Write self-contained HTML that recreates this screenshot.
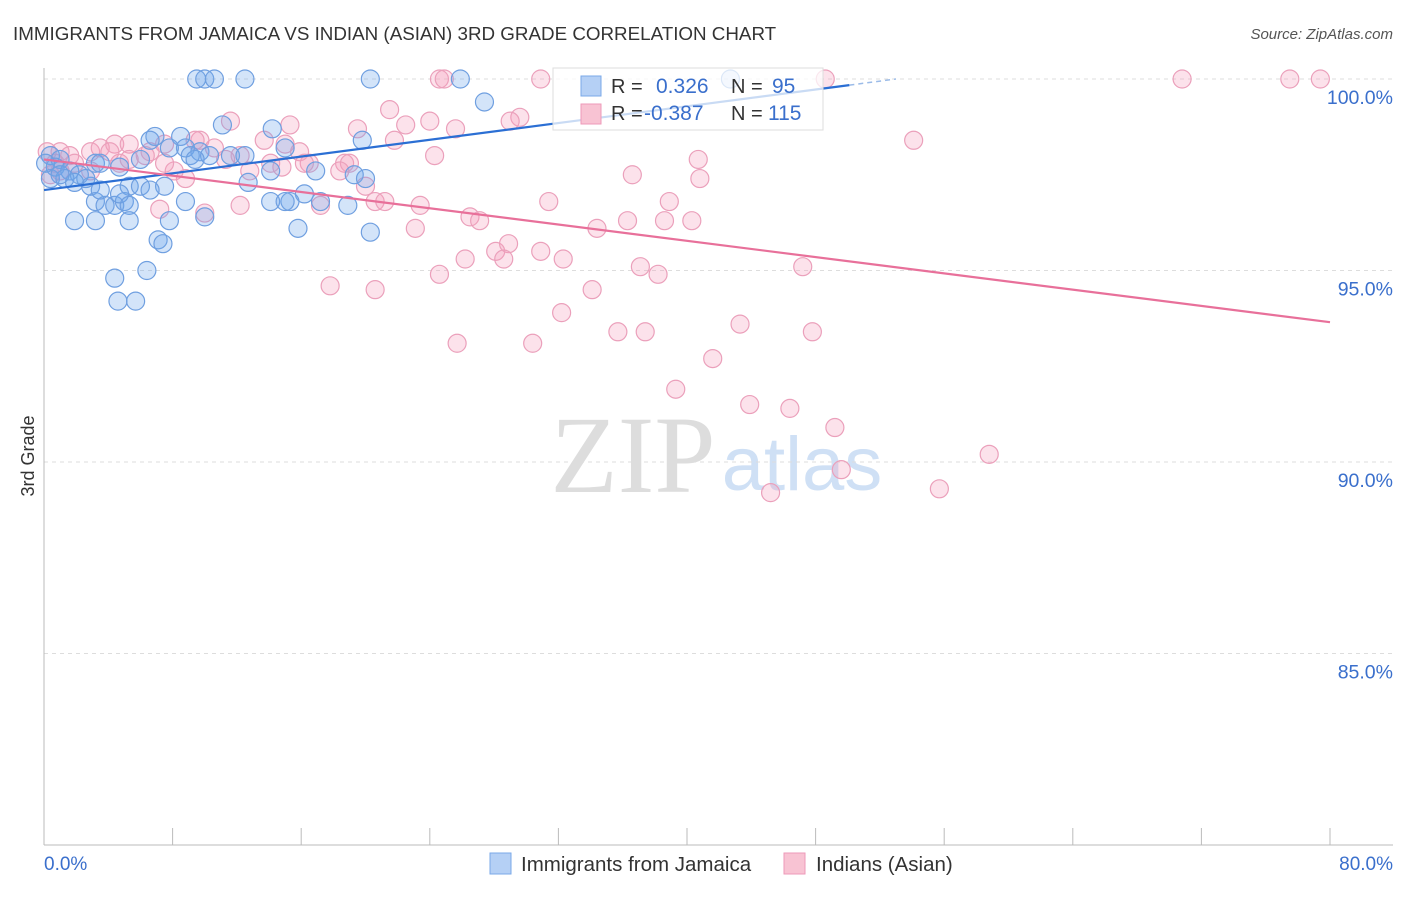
<!DOCTYPE html>
<html><head><meta charset="utf-8"><style>
body{margin:0;background:#fff;font-family:"Liberation Sans",sans-serif}
</style></head><body>
<svg id="c" width="1406" height="892" xmlns="http://www.w3.org/2000/svg" style="font-family:'Liberation Sans',sans-serif">
<text x="13" y="40" font-size="18.8" fill="#333">IMMIGRANTS FROM JAMAICA VS INDIAN (ASIAN) 3RD GRADE CORRELATION CHART</text>
<text x="1393" y="39" font-size="15" fill="#555" text-anchor="end" font-style="italic">Source: ZipAtlas.com</text>
<text x="34" y="456" font-size="18" fill="#333" text-anchor="middle" transform="rotate(-90 34 456)">3rd Grade</text>
<g>
<text x="633" y="492" font-size="110" fill="#ddd" text-anchor="middle" font-family="Liberation Serif,serif">ZIP</text>
<text x="802" y="490" font-size="76" fill="#cfe0f5" text-anchor="middle">atlas</text>
</g>
<g id="grid"></g><g id="axes"></g><g id="pts"></g><g id="lines"></g>
<g>
<rect x="553" y="68" width="270" height="62" fill="#fff" fill-opacity="0.75" stroke="#ddd"/>
<rect x="581" y="76" width="20" height="20" fill="#b5d0f5" stroke="#7aa8e8"/>
<rect x="581" y="104" width="20" height="20" fill="#f8c3d3" stroke="#ee9ab8"/>
<text x="611" y="93" font-size="20" fill="#333">R =</text><text x="656" y="93" font-size="21" fill="#3a6fcc">0.326</text>
<text x="731" y="93" font-size="20" fill="#333">N =</text><text x="772" y="93" font-size="21" fill="#3a6fcc">95</text>
<text x="611" y="120" font-size="20" fill="#333">R =</text><text x="644" y="120" font-size="21" fill="#3a6fcc">-0.387</text>
<text x="731" y="120" font-size="20" fill="#333">N =</text><text x="768" y="120" font-size="21" fill="#3a6fcc">115</text>
</g>
<g>
<rect x="490" y="853" width="21" height="21" fill="#b5d0f5" stroke="#7aa8e8"/>
<text x="521" y="871" font-size="20.5" fill="#333">Immigrants from Jamaica</text>
<rect x="784" y="853" width="21" height="21" fill="#f8c3d3" stroke="#ee9ab8"/>
<text x="816" y="871" font-size="20.5" fill="#333">Indians (Asian)</text>
</g>
</svg>
<script>
const yTicks=[100,95,90,85];
const yTickLabels=["100.0%","95.0%","90.0%","85.0%"];
const xTicks=[0,8,16,24,32,40,48,56,64,72,80];
const blueX=[9.5,10,10.6,12.5,20.3,25.9,42.7,27.4,14.2,11.1,6.9,8.5,19.8,6.6,8.8,9.7,7.8,10.3,11.6,12.5,15,0.4,1,3.2,3.5,6,9.1,0.7,1.6,2.2,2.9,4.7,5.3,6,7.5,9.4,12.7,14.1,16.9,19.3,20,16.2,15.3,14.1,15,17.2,18.9,8.8,3.2,3.8,4.4,5,4.7,5.3,6.6,1.9,3.2,5.3,7.8,10,15.8,20.3,7.1,7.4,6.4,4.4,4.6,5.7,0.4,1.3,2.6,1.9,1,0.1,3.5];
const blueY=[100,100,100,100,100,100,100,99.4,98.7,98.8,98.5,98.5,98.4,98.4,98.2,98.1,98.2,98,98,98,98.2,98,97.9,97.8,97.8,97.9,98,97.7,97.6,97.5,97.2,97.7,97.2,97.2,97.2,97.9,97.3,97.6,97.6,97.5,97.4,97,96.8,96.8,96.8,96.8,96.7,96.8,96.8,96.7,96.7,96.8,97,96.7,97.1,96.3,96.3,96.3,96.3,96.4,96.1,96,95.8,95.7,95,94.8,94.2,94.2,97.4,97.4,97.4,97.3,97.5,97.8,97.1];
const pinkX=[24.6,24.9,30.9,48.6,70.8,77.5,79.4,21.5,22.5,24,29.6,29,25.6,19.5,15.3,11.6,54.1,21.8,24.3,18.7,19,16.5,18.4,20,20.6,21.2,23.4,23.1,26.5,27.1,28.1,28.9,30.9,32.3,31.4,34.4,36.3,36.6,38.6,38.9,40.3,40.7,40.8,37.1,38.2,47.2,24.6,26.2,28.6,17.8,20.6,34.1,32.2,35.7,37.4,43.3,47.8,25.7,30.4,41.6,39.3,43.9,46.4,49.2,49.6,58.8,55.7,45.2,1,1.6,2.9,3.5,4.4,5.3,6.6,7.5,9.7,10.6,12.2,13.7,15,15.9,12.8,14.1,17.2,12.2,8.8,8.1,7.2,10,0.7,1.9,11.3,9.4,16.2,6.3,4.7,2.9,0.4,1,4.1,5.3,7.5,14.8,0.2];
const pinkY=[100,100,100,100,100,100,100,99.2,98.8,98.9,99,98.9,98.7,98.7,98.8,98.9,98.4,98.4,98,97.8,97.8,97.8,97.6,97.2,96.8,96.8,96.7,96.1,96.4,96.3,95.5,95.7,95.5,95.3,96.8,96.1,96.3,97.5,96.3,96.8,96.3,97.9,97.4,95.1,94.9,95.1,94.9,95.3,95.3,94.6,94.5,94.5,93.9,93.4,93.4,93.6,93.4,93.1,93.1,92.7,91.9,91.5,91.4,90.9,89.8,90.2,89.3,89.2,98.1,98,98.1,98.2,98.3,98.3,98.1,98.3,98.4,98.2,98,98.4,98.3,98.1,97.6,97.8,96.7,96.7,97.4,97.6,96.6,96.5,97.8,97.8,97.9,98.4,97.8,98,97.8,97.6,97.5,97.6,98.1,97.9,97.8,97.7,98.1];
const blueTrend=[[0,97.1],[50.1,99.84]];
const blueTrendExt=[[50.1,99.84],[53,100]];
const pinkTrend=[[0,97.9],[80,93.65]];
const NS="http://www.w3.org/2000/svg";
const X=v=>44+v*16.075, Y=v=>79+(100-v)*38.3;
function mk(t,a,p){const e=document.createElementNS(NS,t);for(const k in a)e.setAttribute(k,a[k]);document.getElementById(p).appendChild(e);return e;}
yTicks.forEach((t,i)=>{
 const g=mk('line',{x1:44,x2:1393,y1:Y(t),y2:Y(t),stroke:'#ddd','stroke-dasharray':'4,4'},'grid');
 
 
 const l=mk('text',{x:1393,y:Y(t)+25,'font-size':19.5,fill:'#3a6fcc','text-anchor':'end'},'grid');l.textContent=yTickLabels[i];
 
 
});
const ya=mk('line',{x1:44,x2:44,y1:68,y2:845,stroke:'#bbb'},'axes');


const xa=mk('line',{x1:44,x2:1393,y1:845,y2:845,stroke:'#bbb'},'axes');


xTicks.forEach(t=>{const k=mk('line',{x1:X(t),x2:X(t),y1:828,y2:845,stroke:'#bbb'},'axes');
 
 });
const x0=mk('text',{x:44,y:870,'font-size':19,fill:'#3a6fcc'},'axes');x0.textContent='0.0%';


const x1=mk('text',{x:1393,y:870,'font-size':19,fill:'#3a6fcc','text-anchor':'end'},'axes');x1.textContent='80.0%';


pinkX.forEach((x,i)=>{const c=mk('circle',{cx:X(x),cy:Y(pinkY[i]),r:9,fill:'rgba(244,160,190,0.3)',stroke:'#eba0bb','stroke-width':1.2},'pts');
 
 });
blueX.forEach((x,i)=>{const c=mk('circle',{cx:X(x),cy:Y(blueY[i]),r:9,fill:'rgba(110,165,235,0.3)',stroke:'#6f9fe0','stroke-width':1.2},'pts');
 
 });
const bl=mk('line',{x1:X(blueTrend[0][0]),y1:Y(blueTrend[0][1]),x2:X(blueTrend[1][0]),y2:Y(blueTrend[1][1]),stroke:'#2b6fd4','stroke-width':2.2},'lines');


const be=mk('line',{x1:X(blueTrendExt[0][0]),y1:Y(blueTrendExt[0][1]),x2:X(blueTrendExt[1][0]),y2:Y(blueTrendExt[1][1]),stroke:'#9bbbe8','stroke-width':1.5,'stroke-dasharray':'5,4'},'lines');


const pl=mk('line',{x1:X(pinkTrend[0][0]),y1:Y(pinkTrend[0][1]),x2:X(pinkTrend[1][0]),y2:Y(pinkTrend[1][1]),stroke:'#e8709a','stroke-width':2.2},'lines');


</script>
</body></html>
